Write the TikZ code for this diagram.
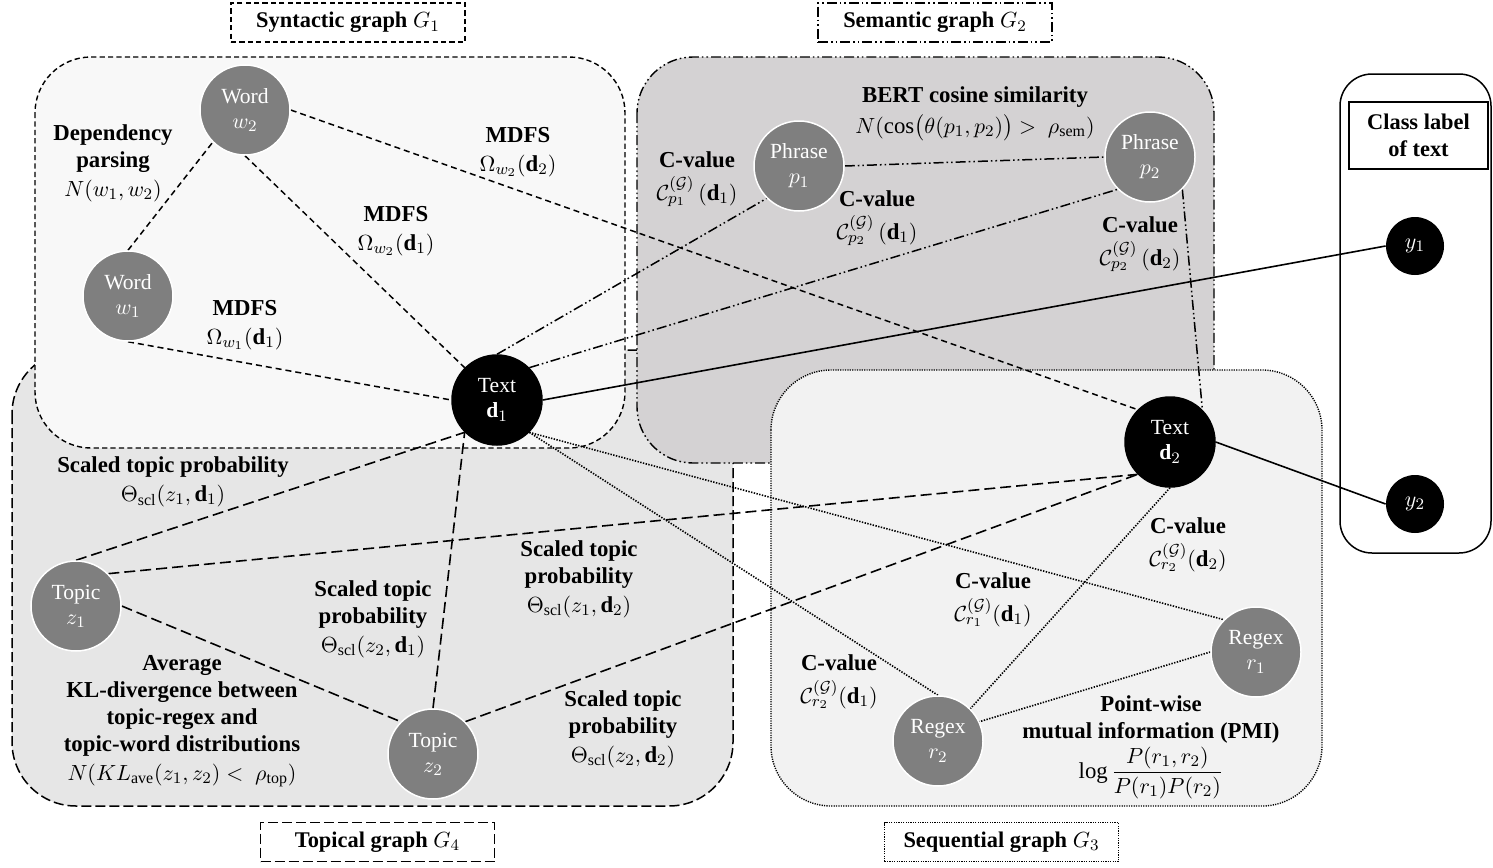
\documentclass[tikz,border=0pt]{standalone}
\usepackage{fontspec}
\setmainfont{Liberation Serif}
\usepackage{amsmath}
\definecolor{nodegray}{HTML}{7F7F7F}
\definecolor{synfill}{HTML}{F8F8F8}
\definecolor{semfill}{HTML}{D4D2D3}
\definecolor{seqfill}{HTML}{F2F2F2}
\definecolor{topfill}{HTML}{E6E6E6}
\pgfdeclarelayer{groups}
\pgfdeclarelayer{links}
\pgfsetlayers{groups,links,main}
\begin{document}
\begin{tikzpicture}[x=0.5pt,y=-0.5pt,
  lbl/.style={font=\fontsize{11.4}{13.5}\selectfont\bfseries, align=center, inner sep=0pt},
  gnode/.style={circle, fill=nodegray, draw=white, line width=0.75pt, minimum size=45pt,
    inner sep=0pt, text=white, align=center, font=\fontsize{10.8}{12.5}\selectfont},
  tnode/.style={gnode, fill=black, draw=black},
  ynode/.style={circle, fill=black, minimum size=29pt, inner sep=0pt, text=white,
    font=\fontsize{10.8}{12.5}\selectfont},
  titlebox/.style={draw, line width=0.7pt, minimum width=117pt, minimum height=19.5pt,
    inner sep=0pt, font=\fontsize{11.2}{13.5}\selectfont\bfseries},
  synline/.style={line width=0.7pt, dash pattern=on 2.6pt off 1.6pt},
  topline/.style={line width=0.75pt, dash pattern=on 5pt off 2pt},
  semline/.style={line width=0.7pt, dash pattern=on 5pt off 1.5pt on 0.8pt off 1.5pt on 0.8pt off 1.5pt},
  seqline/.style={line width=0.7pt, dash pattern=on 0.6pt off 0.6pt},
  synedge/.style={line width=0.75pt, dash pattern=on 3pt off 2pt},
  topedge/.style={line width=0.8pt, dash pattern=on 5.5pt off 2.5pt},
  semedge/.style={line width=0.75pt, dash pattern=on 5pt off 1.5pt on 0.8pt off 1.5pt on 0.8pt off 1.5pt},
  seqedge/.style={line width=0.8pt, dash pattern=on 0.7pt off 0.7pt},
  clsedge/.style={line width=0.8pt}
]
\useasboundingbox (0,0) rectangle (1493,867);

% ---------- graph regions ----------
\begin{pgfonlayer}{groups}
  \draw[topline, fill=topfill, rounded corners=32pt] (12,350) rectangle (733,806);
  \draw[synline, fill=synfill, rounded corners=28pt] (35,57) rectangle (625,448);
  \draw[semline, fill=semfill, rounded corners=28pt] (637,57) rectangle (1214,463);
  \draw[seqline, fill=seqfill, rounded corners=30pt] (771,370) rectangle (1322,806);
  \draw[line width=0.75pt, rounded corners=16pt] (1340,74) rectangle (1491,553);
\end{pgfonlayer}

% ---------- region titles ----------
\node[titlebox, synline] (tsyn) at (348,22.5) {Syntactic graph $G_1$};
\node[titlebox, semline] (tsem) at (935,22.5) {Semantic graph $G_2$};
\node[titlebox, topline] (ttop) at (377.5,842) {Topical graph $G_4$};
\node[titlebox, seqline] (tseq) at (1001.5,842) {Sequential graph $G_3$};
\node[draw, line width=0.7pt, minimum width=69.5pt, minimum height=33.5pt, inner sep=0pt,
  align=center, font=\fontsize{11.2}{13.5}\selectfont\bfseries] (tcls) at (1418.5,135.5)
  {Class label\\of text};

% ---------- vertices ----------
\node[gnode] (w2) at (245,110) {Word\\$w_2$};
\node[gnode] (w1) at (128,296) {Word\\$w_1$};
\node[tnode] (d1) at (497,400) {Text\\$\mathbf{d}_1$};
\node[gnode] (p1) at (799,166) {Phrase\\$p_1$};
\node[gnode] (p2) at (1150,157) {Phrase\\$p_2$};
\node[tnode] (d2) at (1170,442) {Text\\$\mathbf{d}_2$};
\node[ynode] (y1) at (1415,246) {$y_1$};
\node[ynode] (y2) at (1415,504) {$y_2$};
\node[gnode] (z1) at (76,606) {Topic\\$z_1$};
\node[gnode] (z2) at (433,754) {Topic\\$z_2$};
\node[gnode] (r1) at (1256,652) {Regex\\$r_1$};
\node[gnode] (r2) at (938,741) {Regex\\$r_2$};

% ---------- edges ----------
\begin{pgfonlayer}{links}
  % syntactic
  \draw[synedge] (w1.north) -- (w2.south west);
  \draw[synedge] (w2.south) -- (d1.north west);
  \draw[synedge] (w1.south) -- (d1.west);
  \draw[synedge] (w2.east) -- (d2.north west);
  % semantic
  \draw[semedge] (d1.north) -- (p1.south west);
  \draw[semedge] (d1.north east) -- (p2.south west);
  \draw[semedge] (p1.east) -- (p2.west);
  \draw[semedge] (p2.south east) -- (d2.north east);
  % topical
  \draw[topedge] (z1.north) -- (d1.south west);
  \draw[topedge] (z2.north) -- (d1.south west);
  \draw[topedge] (z1.east) -- (z2.north west);
  \draw[topedge] (z1.north east) -- (d2.south west);
  \draw[topedge] (z2.north east) -- (d2.south west);
  % sequential
  \draw[seqedge] (d1.south east) -- (r1.north west);
  \draw[seqedge] (d1.south east) -- (r2.north);
  \draw[seqedge] (d2.south) -- (r2.north east);
  \draw[seqedge] (r1.west) -- (r2.25);
  % class labels
  \draw[clsedge] (d1.east) -- (y1.west);
  \draw[clsedge] (d2.east) -- (y2.west);
\end{pgfonlayer}

% ---------- edge labels ----------
\node[lbl] (ldep) at (113,163) {Dependency\\parsing\\[1pt]$N(w_1,w_2)$};
\node[lbl] (lmw2d2) at (518,152) {MDFS\\[1pt]$\Omega_{w_2}(\mathbf{d}_2)$};
\node[lbl] (lmw2d1) at (396,231) {MDFS\\[1pt]$\Omega_{w_2}(\mathbf{d}_1)$};
\node[lbl] (lmw1d1) at (245,325) {MDFS\\[1pt]$\Omega_{w_1}(\mathbf{d}_1)$};
\node[lbl] (lbert) at (975,114) {BERT cosine similarity\\[2pt]$N(\cos\bigl(\theta(p_1,p_2)\bigr) >\ \rho_{\mathrm{sem}})$};
\node[lbl] (lcp1d1) at (697,179) {C-value\\[3pt]$\mathcal{C}^{(\mathcal{G})}_{p_1}\,(\mathbf{d}_1)$};
\node[lbl] (lcp2d1) at (877,218) {C-value\\[3pt]$\mathcal{C}^{(\mathcal{G})}_{p_2}\,(\mathbf{d}_1)$};
\node[lbl] (lcp2d2) at (1140,244) {C-value\\[3pt]$\mathcal{C}^{(\mathcal{G})}_{p_2}\,(\mathbf{d}_2)$};
\node[lbl] (ltz1d1) at (173,482) {Scaled topic probability\\[1pt]$\Theta_{\mathrm{scl}}(z_1,\mathbf{d}_1)$};
\node[lbl] (ltz2d1) at (373,619) {Scaled topic\\probability\\[1pt]$\Theta_{\mathrm{scl}}(z_2,\mathbf{d}_1)$};
\node[lbl] (ltz1d2) at (579,579) {Scaled topic\\probability\\[1pt]$\Theta_{\mathrm{scl}}(z_1,\mathbf{d}_2)$};
\node[lbl] (ltz2d2) at (623,729) {Scaled topic\\probability\\[1pt]$\Theta_{\mathrm{scl}}(z_2,\mathbf{d}_2)$};
\node[lbl] (lkl) at (182,721) {Average\\KL-divergence between\\topic-regex and\\topic-word distributions\\[1pt]$N(KL_{\mathrm{ave}}(z_1,z_2) <\ \rho_{\mathrm{top}})$};
\node[lbl] (lcr2d2) at (1188,545) {C-value\\[3pt]$\mathcal{C}^{(\mathcal{G})}_{r_2}(\mathbf{d}_2)$};
\node[lbl] (lcr1d1) at (993,600) {C-value\\[3pt]$\mathcal{C}^{(\mathcal{G})}_{r_1}(\mathbf{d}_1)$};
\node[lbl] (lcr2d1) at (839,682) {C-value\\[3pt]$\mathcal{C}^{(\mathcal{G})}_{r_2}(\mathbf{d}_1)$};
\node[lbl] (lpmi) at (1151,747) {Point-wise\\mutual information (PMI)\\[1pt]$\log\dfrac{P(r_1,r_2)}{P(r_1)P(r_2)}$};
\end{tikzpicture}
\end{document}
